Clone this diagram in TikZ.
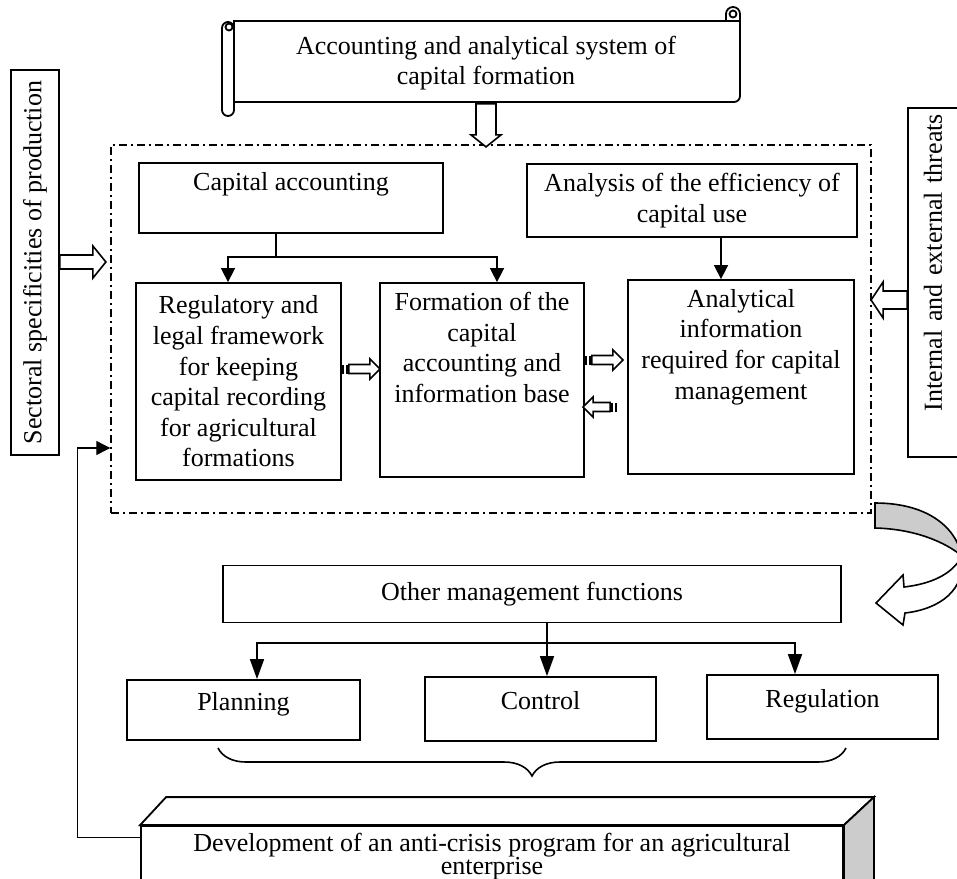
\documentclass[tikz,border=0pt]{standalone}
\usepackage{fontspec}
\setmainfont{Liberation Serif}
\usetikzlibrary{arrows.meta,calc,decorations.pathreplacing}

\begin{document}
\begin{tikzpicture}[x=0.5pt,y=-0.5pt,>={Triangle[length=7pt,width=7pt]},
    font=\fontsize{13}{15.3}\selectfont,
    box/.style={draw,line width=0.9pt,inner sep=3pt,align=center},
    toptext/.style={label={[anchor=north,yshift=-1.5pt,align=center]north:{#1}}},
    dashframe/.style={draw,line width=0.7pt,dash pattern=on 4pt off 2pt on 1pt off 2pt},
    link/.style={line width=0.8pt},
    lowtip/.style={>={Triangle[length=10pt,width=7pt]}}]

  \tikzset{pics/blockarrow/.style n args={4}{code={
      \draw[fill=white,line width=0.8pt] (0,-#2) -- (#1-#4,-#2) -- (#1-#4,-#3) -- (#1,0)
        -- (#1-#4,#3) -- (#1-#4,#2) -- (0,#2) -- cycle;}}}
  \tikzset{pics/stripearrow/.style n args={4}{code={
      \fill (0,-#2) rectangle (2.5,#2);
      \fill (4,-#2) rectangle (7,#2);
      \draw[fill=white,line width=0.8pt] (7,-#2) -- (#1-#4,-#2) -- (#1-#4,-#3) -- (#1,0)
        -- (#1-#4,#3) -- (#1-#4,#2) -- (7,#2) -- cycle;}}}

  \useasboundingbox (0,0) rectangle (957,878);
  \clip (0,0) rectangle (957,878);

  % scroll
  \draw[fill=white,line width=0.9pt] (234,28) -- (234,21) -- (726,21) -- (726,14)
    arc[start angle=180,end angle=360,radius=7] -- (740,96)
    arc[start angle=0,end angle=90,radius=6] -- (234,102);
  \draw[line width=0.9pt] (726,21) -- (740,21);
  \draw[line width=0.9pt] (733,14) circle[radius=3.5];
  \draw[fill=white,line width=0.9pt] (234,28) -- (234,110)
    arc[start angle=0,end angle=180,radius=6] -- (222,28)
    arc[start angle=180,end angle=360,radius=6] -- cycle;
  \draw[line width=0.9pt] (229,27) circle[radius=3.5];
  \node[align=center,minimum width=251.5pt,minimum height=40.5pt] (sys) at (486,63)
    {Accounting and analytical system of\\capital formation};

  \node[dashframe,minimum width=380pt,minimum height=184pt] (frame) at (491,329) {};

  \node[box,minimum width=152pt,minimum height=35pt,toptext={Capital accounting}] (cap) at (291,198) {};
  \node[box,minimum width=165pt,minimum height=36.5pt] (ana) at (692,200.5)
    {Analysis of the efficiency of\\capital use};
  \node[box,minimum width=102.5pt,minimum height=98.5pt] (reg) at (238.5,381.5)
    {Regulatory and\\legal framework\\for keeping\\capital recording\\for agricultural\\formations};
  \node[box,minimum width=102pt,minimum height=97pt,
    toptext={Formation of the\\capital\\accounting and\\information base}] (form) at (482,380) {};
  \node[box,minimum width=113pt,minimum height=97pt,
    toptext={Analytical\\information\\required for capital\\management}] (info) at (741,377) {};

  \node[box,rotate=90,minimum width=192.5pt,minimum height=24pt] (sect) at (35,262.5)
    {Sectoral specificities of production};
  \node[box,rotate=90,minimum height=25pt,text width=168.5pt,align=right] (threat) at (933,282.5)
    {Internal and external threats};

  \node[box,minimum width=309pt,minimum height=28.5pt] (other) at (532,594) {Other management functions};
  \node[box,minimum width=116.5pt,minimum height=30pt,text depth=9pt] (plan) at (243.5,710) {Planning};
  \node[box,minimum width=115.5pt,minimum height=32pt,text depth=9pt] (ctrl) at (540.5,709) {Control};
  \node[box,minimum width=115.5pt,minimum height=32pt,text depth=9pt] (regu) at (822.5,707) {Regulation};

  \node[box,fill=white,minimum width=351pt,minimum height=41pt,
    label={[anchor=north,yshift=-0.5pt,align=center,font=\fontsize{13}{11.5}\selectfont]north:{Development
      of an anti-crisis program for an agricultural\\enterprise}}] (dev) at (492,867) {};
  \draw[fill=white,line width=0.9pt] (dev.north west) -- ++(26,-28) -- ($(dev.north east)+(30,-28)$)
    -- (dev.north east) -- cycle;
  \draw[fill=gray!40,line width=0.9pt] (dev.north east) -- ++(30,-28) -- ++(0,90) -- ++(-30,28) -- cycle;

  \pic[rotate=-90] at (sys.south) {blockarrow={43}{10}{15}{12}};
  \pic at (sect.south |- 0,262) {blockarrow={46}{7}{16}{13}};
  \pic[rotate=180] at (threat.north |- 0,300) {blockarrow={36}{9}{18}{12}};
  \pic at (reg.east |- 0,369) {stripearrow={38}{4.5}{10}{10}};
  \pic at (form.east |- 0,360) {stripearrow={38}{4.5}{10}{10}};
  \pic[rotate=180] at ([xshift=-5pt]info.west |- 0,407) {stripearrow={34}{4.5}{10}{10}};

  \coordinate (cj) at (276,257);
  \draw[link] (cap.south -| cj) -- (cj);
  \draw[link,->] (cj) -| ([xshift=-5.25pt]reg.north);
  \draw[link,->] (cj) -| ([xshift=7.5pt]form.north);
  \draw[link,->] (ana.south -| 721,0) -- (info.north -| 721,0);

  \coordinate (oj) at (547,643);
  \draw[link,lowtip,->] (other.south -| oj) -- (ctrl.north -| oj);
  \draw[link,lowtip,->] (oj) -| ([xshift=6.75pt]plan.north);
  \draw[link,lowtip,->] (oj) -| ([xshift=-13.75pt]regu.north);

  \draw[line width=0.8pt,decorate,decoration={brace,mirror,amplitude=14pt}] (218,748) -- (846,748);

  \draw[line width=0.6pt,->] ([yshift=-6pt]dev.north west) -- ++(-63,0) |- (frame.west |- 0,448);

  \draw[fill=gray!40,line width=0.8pt] (875,503) .. controls (925,503) and (955,525) .. (962,556)
    .. controls (945,542) and (915,529) .. (875,528) -- cycle;
  \draw[fill=white,line width=0.8pt] (962,556) .. controls (966,590) and (940,609) .. (905,613)
    -- (903,625) -- (876,603) -- (903,575) -- (904,587)
    .. controls (930,584) and (952,575) .. (962,556) -- cycle;
\end{tikzpicture}
\end{document}
